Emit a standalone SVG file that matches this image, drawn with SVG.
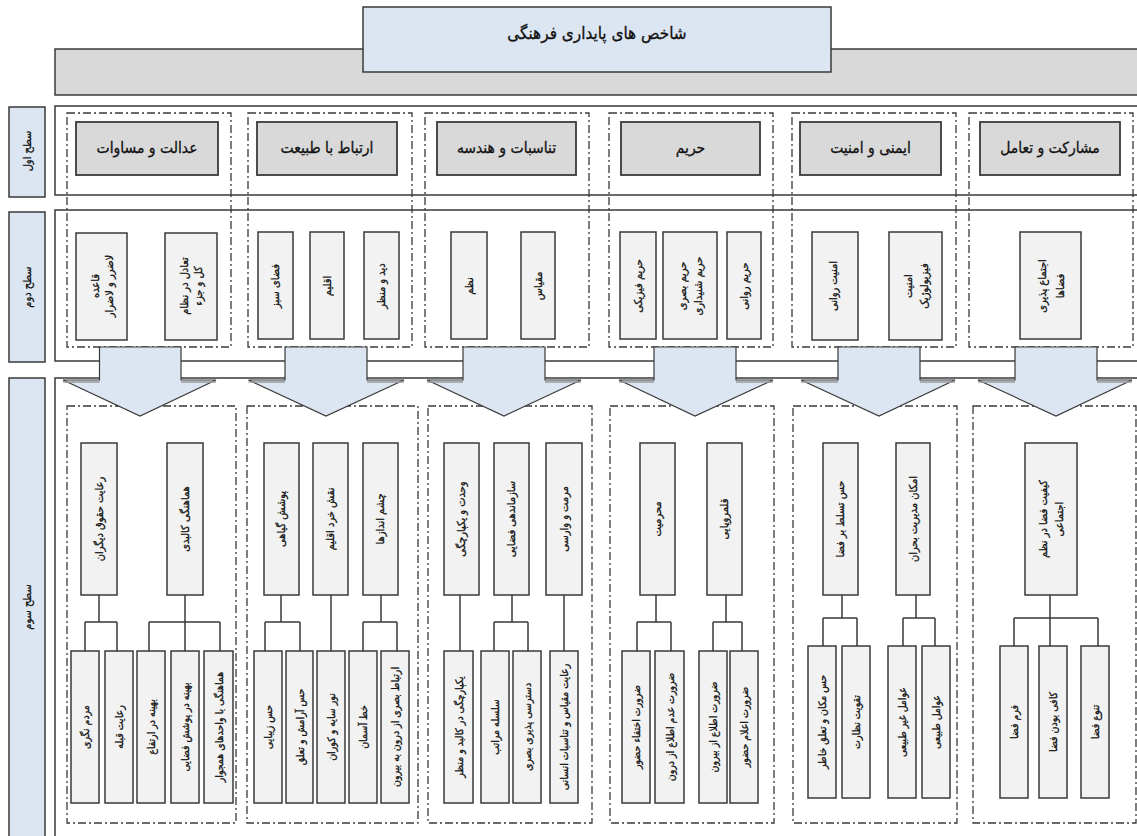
<svg xmlns="http://www.w3.org/2000/svg" width="1137" height="836" viewBox="0 0 1137 836">
<style>
text{font-family:"DejaVu Sans Condensed","DejaVu Sans",sans-serif;fill:#111;stroke:#111;stroke-width:0.3;text-anchor:middle;dominant-baseline:central}
.frame{fill:#fff;stroke:#3a3a3a;stroke-width:1.5}
.lbl{fill:#dce6f2;stroke:#3a3a3a;stroke-width:1.5}
.dash{fill:none;stroke:#3a3a3a;stroke-width:1.3;stroke-dasharray:8 3 2 3}
.g1{fill:#d9d9d9;stroke:#3a3a3a;stroke-width:1.8}
.bx{fill:#f2f2f2;stroke:#3a3a3a;stroke-width:1.5}
.arr{fill:#dce6f2;stroke:#3a3a3a;stroke-width:1.2}
.sh{fill:none;stroke:#9a9a9a;stroke-width:1.5}
.ln{fill:none;stroke:#3a3a3a;stroke-width:1.5}
.t1{font-size:15.5px}
.t2{font-size:11px}
.t3{font-size:11px}
.t4{font-size:10.5px}
</style>
<rect width="1137" height="836" fill="#fff"/>

<g id="header">
<rect x="55" y="49" width="1090" height="46" fill="#d9d9d9" stroke="#3a3a3a" stroke-width="1.5"/>
<rect x="363" y="7" width="468" height="65" fill="#dce6f2" stroke="#3a3a3a" stroke-width="1.5"/>
<text x="597" y="33" style="font-size:17px">شاخص های پایداری فرهنگی</text>
</g>

<g id="frames">
<rect class="frame" x="55" y="106" width="1090" height="89"/>
<rect class="frame" x="55" y="210" width="1090" height="151"/>
<rect class="frame" x="55" y="378" width="1090" height="470"/>
</g>

<g id="level-labels">
<rect class="lbl" x="9" y="107" width="36" height="90"/>
<text class="t2" transform="translate(27,151) rotate(-90)">سطح اول</text>
<rect class="lbl" x="9" y="212" width="36" height="150"/>
<text class="t2" transform="translate(27,287) rotate(-90)">سطح دوم</text>
<rect class="lbl" x="9" y="378" width="36" height="470"/>
<text class="t2" transform="translate(27,607) rotate(-90)">سطح سوم</text>
</g>

<g id="dashed-groups">
<rect class="dash" x="67" y="113" width="164" height="234"/>
<rect class="dash" x="248" y="113" width="164" height="234"/>
<rect class="dash" x="425" y="113" width="164" height="234"/>
<rect class="dash" x="609" y="113" width="164" height="234"/>
<rect class="dash" x="792" y="113" width="164" height="234"/>
<rect class="dash" x="969" y="113" width="164" height="234"/>

<rect class="dash" x="67" y="406" width="169" height="417"/>
<rect class="dash" x="247" y="406" width="171" height="417"/>
<rect class="dash" x="428" y="406" width="164" height="417"/>
<rect class="dash" x="610" y="406" width="164" height="417"/>
<rect class="dash" x="793" y="406" width="164" height="417"/>
<rect class="dash" x="973" y="406" width="163" height="417"/>
</g>

<g id="level1">
<g id="n-adalat"><rect class="g1" x="76" y="122" width="142" height="53"/><text class="t1" x="147" y="148">عدالت و مساوات</text></g>
<g id="n-ertebat"><rect class="g1" x="257" y="122" width="140" height="53"/><text class="t1" x="327" y="148">ارتباط با طبیعت</text></g>
<g id="n-tanasob"><rect class="g1" x="437" y="122" width="139" height="53"/><text class="t1" x="506.5" y="148">تناسبات و هندسه</text></g>
<g id="n-harim"><rect class="g1" x="621" y="122" width="139" height="53"/><text class="t1" x="690.5" y="148">حریم</text></g>
<g id="n-imeni"><rect class="g1" x="800" y="122" width="141" height="53"/><text class="t1" x="870.5" y="148">ایمنی و امنیت</text></g>
<g id="n-mosharekat"><rect class="g1" x="980" y="122" width="140" height="53"/><text class="t1" x="1050" y="148">مشارکت و تعامل</text></g>
</g>

<g id="level2">
<g id="n2a"><rect class="bx" x="76" y="233" width="51" height="107"/><text class="t2" transform="translate(101.5,286) rotate(-90)"><tspan x="0" dy="-7">قاعده</tspan><tspan x="0" dy="14">لاضرر و لاضرار</tspan></text></g>
<g id="n2b"><rect class="bx" x="165" y="233" width="52" height="107"/><text class="t2" transform="translate(191,286) rotate(-90)"><tspan x="0" dy="-7">تعادل در نظام</tspan><tspan x="0" dy="14">کل و جزء</tspan></text></g>
<g id="n2c"><rect class="bx" x="258" y="232" width="35" height="107"/><text class="t2" transform="translate(275.5,286) rotate(-90)">فضای سبز</text></g>
<g id="n2d"><rect class="bx" x="310" y="232" width="34" height="107"/><text class="t2" transform="translate(327,286) rotate(-90)">اقلیم</text></g>
<g id="n2e"><rect class="bx" x="364" y="232" width="35" height="107"/><text class="t2" transform="translate(381.5,286) rotate(-90)">دید و منظر</text></g>
<g id="n2f"><rect class="bx" x="451" y="232" width="36" height="107"/><text class="t2" transform="translate(469,286) rotate(-90)">نظم</text></g>
<g id="n2g"><rect class="bx" x="521" y="232" width="34" height="107"/><text class="t2" transform="translate(538,286) rotate(-90)">مقیاس</text></g>
<g id="n2h"><rect class="bx" x="620" y="232" width="36" height="107"/><text class="t2" transform="translate(638,286) rotate(-90)">حریم فیزیکی</text></g>
<g id="n2i"><rect class="bx" x="663" y="232" width="54" height="107"/><text class="t2" transform="translate(690,286) rotate(-90)"><tspan x="0" dy="-8">حریم بصری</tspan><tspan x="0" dy="16">حریم شنیداری</tspan></text></g>
<g id="n2j"><rect class="bx" x="727" y="232" width="34" height="107"/><text class="t2" transform="translate(744,286) rotate(-90)">حریم روانی</text></g>
<g id="n2k"><rect class="bx" x="812" y="232" width="46" height="108"/><text class="t2" transform="translate(833,286) rotate(-90)">امنیت روانی</text></g>
<g id="n2l"><rect class="bx" x="889" y="232" width="53" height="108"/><text class="t2" transform="translate(915.5,286) rotate(-90)"><tspan x="0" dy="-8">امنیت</tspan><tspan x="0" dy="16">فیزیولوژیک</tspan></text></g>
<g id="n2m"><rect class="bx" x="1020" y="232" width="61" height="107"/><text class="t2" transform="translate(1050.5,286) rotate(-90)"><tspan x="0" dy="-9">اجتماع پذیری</tspan><tspan x="0" dy="18">فضاها</tspan></text></g>
</g>

<g id="arrows">
<path class="arr" d="M99.5,347 H181 V380 H216 L140,416 L63,380 H99.5 Z"/>
<path class="arr" d="M285,347 H367 V380 H404 L326,416 L248.5,380 H285 Z"/>
<path class="arr" d="M463,347 H545 V380 H581 L504,416 L427,380 H463 Z"/>
<path class="arr" d="M654,347 H736 V380 H773 L695,416 L619,380 H654 Z"/>
<path class="arr" d="M838,347 H920 V380 H955 L879,416 L801,380 H838 Z"/>
<path class="arr" d="M1015,347 H1097 V380 H1132 L1056,416 L978,380 H1015 Z"/>
<path class="sh" d="M63,382 H99.5 M181,382 H216 M248.5,382 H285 M367,382 H404 M427,382 H463 M545,382 H581 M619,382 H654 M736,382 H773 M801,382 H838 M920,382 H955 M978,382 H1015 M1097,382 H1132"/>
</g>

<g id="connectors">
<path class="ln" d="M99,595 V622 M85,622 H117 M85,622 V651 M117,622 V651"/>
<path class="ln" d="M185,595 V622 M149,622 H220 M149,622 V651 M185,622 V651 M220,622 V651"/>
<path class="ln" d="M281,595 V622 M265,622 H300 M265,622 V651 M300,622 V651"/>
<path class="ln" d="M331,595 V651"/>
<path class="ln" d="M381,595 V622 M363,622 H397 M363,622 V651 M397,622 V651"/>
<path class="ln" d="M460,595 V651"/>
<path class="ln" d="M512,595 V622 M494,622 H528 M494,622 V651 M528,622 V651"/>
<path class="ln" d="M564,595 V651"/>
<path class="ln" d="M656,595 V622 M637,622 H671 M637,622 V651 M671,622 V651"/>
<path class="ln" d="M726,595 V622 M713,622 H742 M713,622 V651 M742,622 V651"/>
<path class="ln" d="M842,595 V618 M823,618 H857 M823,618 V646 M857,618 V646"/>
<path class="ln" d="M916,595 V618 M903,618 H935 M903,618 V646 M935,618 V646"/>
<path class="ln" d="M1050,595 V618 M1014,618 H1098 M1014,618 V646 M1050,618 V646 M1098,618 V646"/>
</g>

<g id="level3-upper">
<g id="u1"><rect class="bx" x="81" y="443" width="36" height="152"/><text class="t3" transform="translate(99,519) rotate(-90)">رعایت حقوق دیگران</text></g>
<g id="u2"><rect class="bx" x="167" y="443" width="36" height="152"/><text class="t3" transform="translate(185,519) rotate(-90)">هماهنگی کالبدی</text></g>
<g id="u3"><rect class="bx" x="264" y="443" width="35" height="152"/><text class="t3" transform="translate(281.5,519) rotate(-90)">پوشش گیاهی</text></g>
<g id="u4"><rect class="bx" x="313" y="443" width="35" height="152"/><text class="t3" transform="translate(330.5,519) rotate(-90)">نقش خرد اقلیم</text></g>
<g id="u5"><rect class="bx" x="363" y="443" width="35" height="152"/><text class="t3" transform="translate(380.5,519) rotate(-90)">چشم اندازها</text></g>
<g id="u6"><rect class="bx" x="444" y="443" width="35" height="152"/><text class="t3" transform="translate(461.5,519) rotate(-90)">وحدت و یکپارچگی</text></g>
<g id="u7"><rect class="bx" x="494" y="443" width="35" height="152"/><text class="t3" transform="translate(511.5,519) rotate(-90)">سازماندهی فضایی</text></g>
<g id="u8"><rect class="bx" x="546" y="443" width="36" height="152"/><text class="t3" transform="translate(564,519) rotate(-90)">مرمت و وارسی</text></g>
<g id="u9"><rect class="bx" x="640" y="443" width="35" height="152"/><text class="t3" transform="translate(657.5,519) rotate(-90)">محرمیت</text></g>
<g id="u10"><rect class="bx" x="707" y="443" width="35" height="152"/><text class="t3" transform="translate(724.5,519) rotate(-90)">قلمروپایی</text></g>
<g id="u11"><rect class="bx" x="823" y="443" width="35" height="152"/><text class="t3" transform="translate(840.5,519) rotate(-90)">حس تسلط بر فضا</text></g>
<g id="u12"><rect class="bx" x="896" y="443" width="34" height="152"/><text class="t3" transform="translate(913,519) rotate(-90)">امکان مدیریت بحران</text></g>
<g id="u13"><rect class="bx" x="1025" y="443" width="52" height="152"/><text class="t3" transform="translate(1051,519) rotate(-90)"><tspan x="0" dy="-8">کیفیت فضا در نظم</tspan><tspan x="0" dy="16">اجتماعی</tspan></text></g>
</g>

<g id="level3-lower">
<g id="l1"><rect class="bx" x="71" y="651" width="28" height="152"/><text class="t4" transform="translate(85,727) rotate(-90)">مردم نگری</text></g>
<g id="l2"><rect class="bx" x="105" y="651" width="28" height="152"/><text class="t4" transform="translate(119,727) rotate(-90)">رعایت قبله</text></g>
<g id="l3"><rect class="bx" x="137" y="651" width="28" height="152"/><text class="t4" transform="translate(151,727) rotate(-90)">بهینه در ارتفاع</text></g>
<g id="l4"><rect class="bx" x="171" y="651" width="28" height="152"/><text class="t4" transform="translate(185,727) rotate(-90)">بهینه در پوشش فضایی</text></g>
<g id="l5"><rect class="bx" x="204" y="651" width="29" height="152"/><text class="t4" transform="translate(218.5,727) rotate(-90)">هماهنگی با واحدهای همجوار</text></g>
<g id="l6"><rect class="bx" x="254" y="651" width="28" height="152"/><text class="t4" transform="translate(268,727) rotate(-90)">حس زیبایی</text></g>
<g id="l7"><rect class="bx" x="286" y="651" width="27" height="152"/><text class="t4" transform="translate(299.5,727) rotate(-90)">حس آرامش و تعلق</text></g>
<g id="l8"><rect class="bx" x="317" y="651" width="28" height="152"/><text class="t4" transform="translate(331,727) rotate(-90)">نور سایه و کوران</text></g>
<g id="l9"><rect class="bx" x="349" y="651" width="28" height="152"/><text class="t4" transform="translate(363,727) rotate(-90)">خط آسمان</text></g>
<g id="l10"><rect class="bx" x="381" y="651" width="28" height="152"/><text class="t4" transform="translate(395,727) rotate(-90)">ارتباط بصری از درون به بیرون</text></g>
<g id="l11"><rect class="bx" x="444" y="651" width="29" height="152"/><text class="t4" transform="translate(458.5,727) rotate(-90)">یکپارچگی در کالبد و منظر</text></g>
<g id="l12"><rect class="bx" x="481" y="651" width="28" height="152"/><text class="t4" transform="translate(495,727) rotate(-90)">سلسله مراتب</text></g>
<g id="l13"><rect class="bx" x="513" y="651" width="28" height="152"/><text class="t4" transform="translate(527,727) rotate(-90)">دسترسی پذیری بصری</text></g>
<g id="l14"><rect class="bx" x="550" y="651" width="28" height="152"/><text class="t4" transform="translate(564,727) rotate(-90)">رعایت مقیاس و تناسبات انسانی</text></g>
<g id="l15"><rect class="bx" x="622" y="651" width="28" height="152"/><text class="t4" transform="translate(636,727) rotate(-90)">ضرورت اختفاء حضور</text></g>
<g id="l16"><rect class="bx" x="655" y="651" width="29" height="152"/><text class="t4" transform="translate(669.5,727) rotate(-90)">ضرورت عدم اطلاع از درون</text></g>
<g id="l17"><rect class="bx" x="699" y="651" width="28" height="152"/><text class="t4" transform="translate(713,727) rotate(-90)">ضرورت اطلاع از بیرون</text></g>
<g id="l18"><rect class="bx" x="730" y="651" width="28" height="152"/><text class="t4" transform="translate(744,727) rotate(-90)">ضرورت اعلام حضور</text></g>
<g id="l19"><rect class="bx" x="808" y="646" width="28" height="152"/><text class="t4" transform="translate(822,722) rotate(-90)">حس مکان و تعلق خاطر</text></g>
<g id="l20"><rect class="bx" x="842" y="646" width="28" height="152"/><text class="t4" transform="translate(856,722) rotate(-90)">تقویت نظارت</text></g>
<g id="l21"><rect class="bx" x="888" y="646" width="28" height="152"/><text class="t4" transform="translate(902,722) rotate(-90)">عوامل غیر طبیعی</text></g>
<g id="l22"><rect class="bx" x="922" y="646" width="28" height="152"/><text class="t4" transform="translate(936,722) rotate(-90)">عوامل طبیعی</text></g>
<g id="l23"><rect class="bx" x="1000" y="646" width="28" height="152"/><text class="t4" transform="translate(1014,722) rotate(-90)">فرم فضا</text></g>
<g id="l24"><rect class="bx" x="1039" y="646" width="28" height="152"/><text class="t4" transform="translate(1053,722) rotate(-90)">کافی بودن فضا</text></g>
<g id="l25"><rect class="bx" x="1081" y="646" width="28" height="152"/><text class="t4" transform="translate(1095,722) rotate(-90)">تنوع فضا</text></g>
</g>
</svg>
